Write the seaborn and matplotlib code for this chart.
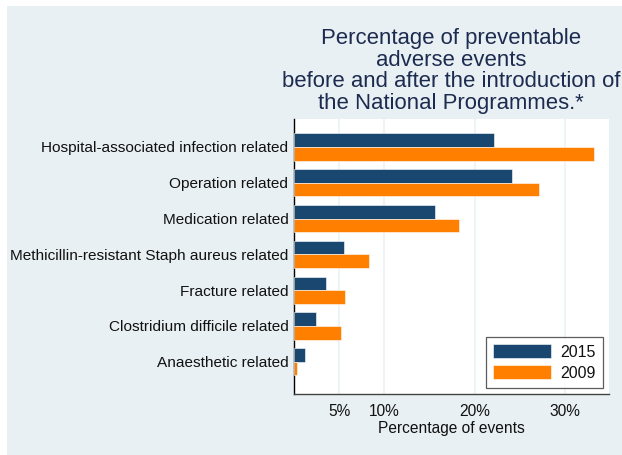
import numpy as np
import pandas as pd
import seaborn as sns
import matplotlib.pyplot as plt
from matplotlib.patches import Rectangle

# values (percent of events)
categories = ["Hospital-associated infection related", "Operation related",
              "Medication related", "Methicillin-resistant Staph aureus related",
              "Fracture related", "Clostridium difficile related",
              "Anaesthetic related"]
pct_2015 = [22.2, 24.2, 15.6, 5.5, 3.5, 2.4, 1.2]
pct_2009 = [33.2, 27.1, 18.3, 8.3, 5.6, 5.2, 0.3]
years = ["2015", "2009"]
xticks = [5, 10, 20, 30]
xticklabels = ["5%", "10%", "20%", "30%"]

df = pd.DataFrame({
    "category": categories * 2,
    "year": [years[0]] * len(categories) + [years[1]] * len(categories),
    "pct": pct_2015 + pct_2009,
})

sns.set_style("white")
plt.rcParams["font.family"] = ["Liberation Sans", "DejaVu Sans"]
plt.rcParams["text.color"] = "#111111"
plt.rcParams["xtick.color"] = "#111111"
plt.rcParams["ytick.color"] = "#111111"
plt.rcParams["axes.labelcolor"] = "#111111"

bg = "#e8f0f3"
fig = plt.figure(figsize=(6.22, 4.55), dpi=100, facecolor="white")
fig.patches.append(Rectangle((7 / 622, 0), 1, 1 - 6 / 455, transform=fig.transFigure,
                             facecolor=bg, edgecolor="none", zorder=-10))
ax = fig.add_axes([294 / 622, 1 - 394 / 455, (609 - 294) / 622, (394 - 119) / 455])

sns.barplot(data=df, y="category", x="pct", hue="year", orient="h",
            palette={"2015": "#1a476f", "2009": "#ff7f00"},
            width=0.76, gap=0, edgecolor="#ffffff", linewidth=0.4,
            saturation=1, ax=ax, zorder=3)

ax.set_xlim(0, 34.9)
ax.set_ylim(6.9, -0.78)
ax.set_xticks(xticks)
ax.set_xticklabels(xticklabels, fontsize=11.2)
ax.tick_params(axis="x", length=0, pad=7)
ax.tick_params(axis="y", length=0, labelsize=11.1, pad=4)
ax.set_ylabel("")
ax.set_xlabel("Percentage of events", fontsize=11.2, labelpad=2)
ax.grid(axis="x", color="#eaf2f3", linewidth=1.2, zorder=0)
ax.set_axisbelow(True)
for s in ["top", "right"]:
    ax.spines[s].set_visible(False)
ax.spines["left"].set_color("black")
ax.spines["bottom"].set_color("#444444")
ax.spines["left"].set_linewidth(1.0)
ax.spines["bottom"].set_linewidth(1.0)

leg = ax.legend(loc="lower right", bbox_to_anchor=(0.981, 0.022), borderaxespad=0,
                fontsize=11.5, frameon=True, fancybox=False, edgecolor="#333333",
                handlelength=3.6, handleheight=0.95, borderpad=0.45,
                labelspacing=0.35, handletextpad=0.6)
leg.get_frame().set_linewidth(0.9)

fig.text(451 / 622, 1 - 28 / 455,
         "Percentage of preventable\nadverse events\nbefore and after the introduction of\nthe National Programmes.*",
         ha="center", va="top", fontsize=15.9, color="#1c2b4f", linespacing=1.04)

fig.savefig("out.png", dpi=100, facecolor="white")
